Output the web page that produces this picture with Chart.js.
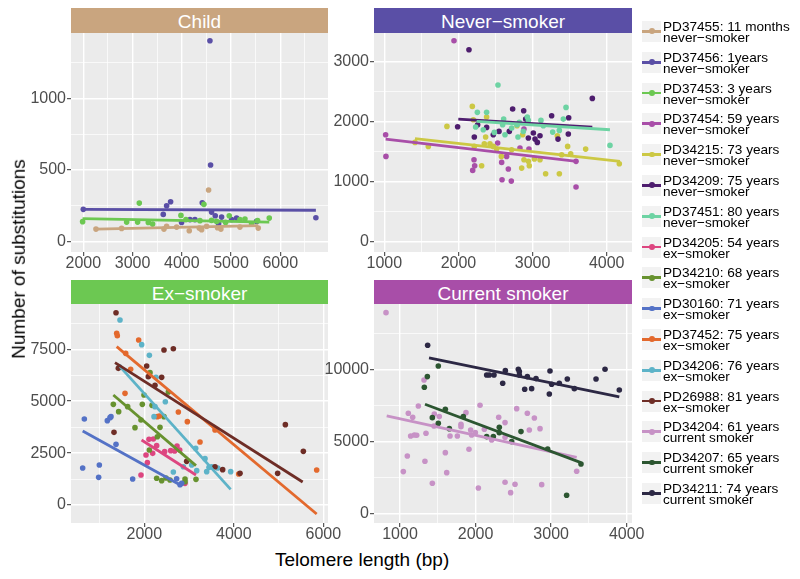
<!DOCTYPE html>
<html>
<head>
<meta charset="utf-8">
<script src="https://cdn.jsdelivr.net/npm/chart.js@4.4.1/dist/chart.umd.min.js"></script>
<style>
  body { margin: 0; background: #fff; font-family: "Liberation Sans", Arial, sans-serif; }
  #fig { position: relative; width: 800px; height: 579px; overflow: hidden; }
  .panel { position: absolute; }
  .strip { position: absolute; color: #fff; font-size: 19px; text-align: center; overflow: hidden; white-space: nowrap; }
  .title { position: absolute; font-size: 19px; color: #000; white-space: nowrap; }
  .entry { position: absolute; left: 642px; height: 31px; }
  .key { position: absolute; left: 0; top: 0; width: 19px; height: 21px; background: #f2f2f2; }
  .key .ln { position: absolute; left: 0; top: 9px; width: 19px; height: 2.8px; }
  .key .dot { position: absolute; left: 6.8px; top: 7.4px; width: 5.8px; height: 5.8px; border-radius: 50%; }
  .lab { position: absolute; left: 21px; top: 0; font-size: 13.6px; line-height: 11px; color: #000; white-space: nowrap; }
</style>
</head>
<body>
<div id="fig"></div>
<script>
// samples, in legend order
const sampleLabels = [
  'PD37455: 11 months', 'PD37456: 1years', 'PD37453: 3 years', 'PD37454: 59 years',
  'PD34215: 73 years', 'PD34209: 75 years', 'PD37451: 80 years', 'PD34205: 54 years',
  'PD34210: 68 years', 'PD30160: 71 years', 'PD37452: 75 years', 'PD34206: 76 years',
  'PD26988: 81 years', 'PD34204: 61 years', 'PD34207: 65 years', 'PD34211: 74 years'
];
const sampleStatus = [
  'never\u2212smoker', 'never\u2212smoker', 'never\u2212smoker', 'never\u2212smoker',
  'never\u2212smoker', 'never\u2212smoker', 'never\u2212smoker', 'ex\u2212smoker',
  'ex\u2212smoker', 'ex\u2212smoker', 'ex\u2212smoker', 'ex\u2212smoker',
  'ex\u2212smoker', 'current smoker', 'current smoker', 'current smoker'
];
const sampleColours = [
  '#c9a57f', '#5a4fa6', '#6cc852', '#a84ea8', '#ccc844', '#4e1d6e', '#6dd3a3', '#dd4680',
  '#67922f', '#5472c6', '#e3692d', '#5db3c8', '#6e2d26', '#c792c6', '#2c5631', '#2c2844'
];

// telomere length (bp) per sample
const pointLen = [
  [2257,2778,3638,3692,3896,4152,4355,4403,4504,4545,4727,4795,5181,5553],
  [2000,3624,3692,3773,3996,4166,4267,4416,4572,4585,4605,4680,4748,4809,5012,5113,5519,6724],
  [1986,2880,3103,3137,3320,3408,3983,4084,4369,4450,4605,4707,4890,4964,5181,5283,5418,5540,5777],
  [1018,1022,1940,2192,2210,2219,2529,2583,2588,2650,2673,2713,2830,2884,2951,3586,3586],
  [1414,1594,1845,2187,2201,2214,2313,2349,2367,2380,2425,2470,2515,2579,2718,2790,2853,2866,2884,2943,2956,3024,3100,3176,3334,3361,3392,3473,3514,3716,4170],
  [1989,2142,2214,2259,2380,2470,2547,2686,2731,2880,2907,2943,3010,3033,3064,3100,3257,3343,3482,3487,3806],
  [2232,2255,2335,2380,2484,2533,2596,2610,2628,2718,2790,2803,2821,2875,2929,2943,3113,3145,3271,3361,3415,3451,4044],
  [1926,2038,2068,2105,2187,2202,2276,2455,2590,2679,2731,2791,2910],
  [1308,1427,1628,1792,1926,1956,1993,2113,2128,2172,2276,2291,2351,2388,2440,2485,2537,2574,2910,2910,3155],
  [623,660,980,995,1174,1233,1256,1368,1740,2723,2798,2835],
  [1383,1397,1569,1584,1695,1874,2291,2336,2761,2962,3245,3580,4109,5852],
  [1442,1457,1941,2113,2217,2239,2262,2470,2649,2873,3059,3148,3171,3357,3394,3446,3506,3640,3930],
  [1323,1368,1420,2053,2090,2239,2388,2440,2649,2947,3580,3751,4139,4980,5152,5554],
  [815,1044,1097,1110,1141,1168,1190,1221,1243,1318,1330,1344,1428,1450,1454,1520,1600,1618,1662,1759,1807,1807,1873,1913,1935,1948,1997,2037,2059,2116,2213,2306,2390,2390,2390,2464,2522,2544,2685,2711,2778,2853,2875,3338],
  [1322,1362,1428,1507,1507,1600,1653,1838,2147,2235,2314,2314,2478,2601,2954,3205,3395],
  [1366,2147,2182,2244,2359,2394,2566,2579,2579,2650,2685,2742,2800,2976,2985,3007,3108,3214,3307,3594,3713,3902]
];
// number of substitutions per sample
const pointSubs = [
  [86,91,86,105,100,75,93,82,105,359,96,86,100,93],
  [224,189,249,277,133,152,152,270,1403,534,205,179,124,170,152,163,140,165],
  [138,135,135,268,133,121,182,152,145,259,147,140,133,179,152,156,124,145,163],
  [1781,1419,3350,1185,1363,1263,1642,1319,1030,1419,1208,1007,1558,1875,1541,907,1336],
  [1653,1586,1920,2254,2031,1586,1263,1631,1742,2076,1631,1586,1541,1419,1530,1931,1224,1781,1363,1336,1263,1375,1363,1130,1764,1130,1447,1586,1464,1541,1297],
  [1914,3200,1742,1948,1903,1781,1836,1836,2209,2181,2042,1725,1809,1708,1653,1764,2098,1708,1792,2065,2387],
  [1909,2154,1864,2154,1820,2610,1948,2042,1781,1892,1948,1742,1987,1836,2076,2020,2020,1931,1825,1853,2042,2237,1603],
  [1445,2408,2039,3163,2489,3179,2858,2569,2617,2601,2842,2649,1044],
  [4849,4496,4737,3725,4094,4849,5298,2649,6374,4801,1285,3291,3741,1172,4255,1301,5443,1204,1252,1124,1236],
  [1782,4142,1333,1927,4062,4207,4255,2922,1252,1268,979,1044],
  [8269,8156,5379,7305,6535,7948,4255,4287,4480,4014,3035,3613,1493,1686],
  [6663,8911,7723,7209,4255,4737,6149,4977,1590,1846,1927,2730,1654,2232,1606,1814,1846,1782,1606],
  [3500,9264,6583,6695,6182,5764,6149,7466,7530,2103,1846,1702,1525,1525,3870,2585],
  [13936,2894,3982,6945,5371,6667,5440,5417,7454,9260,3611,5556,2084,6065,6899,6714,4213,2824,5371,5371,6181,6019,6991,4445,5788,5440,5602,1759,7501,5834,5093,6667,6297,5278,2153,1435,2014,7269,6945,5788,6621,5880,1991,2917],
  [8751,9492,6644,10232,6251,7223,5880,6714,5325,5325,5973,5602,4977,5672,4468,1250,3426],
  [11668,9607,9607,9607,9029,9908,10000,9839,9607,8612,9492,8658,9353,8288,9885,8959,9029,9330,8658,9330,10000,8566]
];
// fitted line ends
const fitLen = [
  [2257,5553],[2000,6724],[1986,5777],[1018,3595],[1414,4179],[1998,3806],[2246,4044],[1939,3155],
  [1308,3155],[623,2835],[1383,5852],[1457,3930],[1345,5539],[824,3338],[1331,3395],[1384,3902]
];
const fitSubs = [
  [86,110],[224,218],[159,135],[1708,1336],[1714,1336],[2042,1909],[2003,1864],[3131,1445],
  [5298,1895],[3564,931],[7627,-434],[6663,755],[6856,1108],[6760,3889],[7570,3519],[10788,8079]
];

// facets
const panelNames = ['Child', 'Never\u2212smoker', 'Ex\u2212smoker', 'Current smoker'];
const panelSamples = [[0,1,2], [3,4,5,6], [7,8,9,10,11,12], [13,14,15]];
const xMajor = [[2000,3000,4000,5000,6000], [1000,2000,3000,4000], [2000,4000,6000], [1000,2000,3000,4000]];
const xMinor = [[2500,3500,4500,5500,6500], [1500,2500,3500], [1000,3000,5000], [1500,2500,3500]];
const yMajor = [[0,500,1000], [0,1000,2000,3000], [0,2500,5000,7500], [0,5000,10000]];
const yMinor = [[250,750,1250], [500,1500,2500], [1250,3750,6250,8750], [2500,7500,12500]];
const xLimits = [[1750,6970], [861,4341], [362,6105], [656,4070]];
const yLimits = [[-74,1457], [-177,3479], [-867,9682], [-674,14535]];

// panel plot areas on the page
const boxes = [
  {left: 71, top: 33, w: 257, h: 219, strip: 8},
  {left: 374, top: 33, w: 258, h: 219, strip: 8},
  {left: 71, top: 304, w: 257, h: 219, strip: 280},
  {left: 374, top: 304, w: 258, h: 219, strip: 280}
];
const yAxisW = 56, xAxisH = 26, padRight = 16, padTop = 14;

const fig = document.getElementById('fig');

const panelBg = {
  id: 'panelBg',
  beforeDraw(chart) {
    const a = chart.chartArea, c = chart.ctx;
    c.save();
    c.fillStyle = '#ebebeb';
    c.fillRect(a.left, a.top, a.right - a.left, a.bottom - a.top);
    c.restore();
  }
};

function axis(major, minor, lim, horizontal) {
  const all = major.concat(minor).sort((a, b) => a - b);
  return {
    type: 'linear',
    position: horizontal ? 'bottom' : 'left',
    min: lim[0],
    max: lim[1],
    afterBuildTicks: (s) => { s.ticks = all.map(v => ({value: v})); },
    afterFit: (s) => { if (horizontal) s.height = xAxisH; else s.width = yAxisW; },
    border: {display: false},
    grid: {
      color: '#ffffff',
      lineWidth: (c) => (c.tick && major.includes(c.tick.value)) ? 1.4 : 0.7,
      tickColor: (c) => (c.tick && major.includes(c.tick.value)) ? '#333333' : 'rgba(0,0,0,0)',
      tickLength: 4,
      tickWidth: 1
    },
    ticks: {
      autoSkip: false,
      maxRotation: 0,
      padding: horizontal ? -2 : 1,
      color: '#4d4d4d',
      font: {family: '"Liberation Sans", Arial, sans-serif', size: 16},
      callback: (v) => major.includes(v) ? String(v) : ''
    }
  };
}

for (let p = 0; p < 4; p++) {
  const b = boxes[p];
  const div = document.createElement('div');
  div.className = 'panel';
  div.style.left = (b.left - yAxisW) + 'px';
  div.style.top = (b.top - padTop) + 'px';
  div.style.width = (yAxisW + b.w + padRight) + 'px';
  div.style.height = (padTop + b.h + xAxisH) + 'px';
  const cv = document.createElement('canvas');
  div.appendChild(cv);
  fig.appendChild(div);

  const strip = document.createElement('div');
  strip.className = 'strip';
  strip.style.left = b.left + 'px';
  strip.style.width = b.w + 'px';
  strip.style.top = b.strip + 'px';
  strip.style.height = (b.top - b.strip - 0.5) + 'px';
  strip.style.lineHeight = (b.top - b.strip + 3) + 'px';
  strip.style.background = sampleColours[p];
  strip.textContent = panelNames[p];
  fig.appendChild(strip);

  const datasets = [];
  panelSamples[p].forEach(k => {
    datasets.push({
      label: sampleLabels[k],
      data: pointLen[k].map((x, i) => ({x: x, y: pointSubs[k][i]})),
      backgroundColor: sampleColours[k],
      borderWidth: 0,
      pointRadius: 2.8,
      order: 100 - k
    });
    datasets.push({
      label: sampleLabels[k] + ' fit',
      data: fitLen[k].map((x, i) => ({x: x, y: fitSubs[k][i]})),
      showLine: true,
      borderColor: sampleColours[k],
      borderWidth: 2.8,
      pointRadius: 0,
      order: 50 - k
    });
  });

  new Chart(cv, {
    type: 'scatter',
    data: {datasets: datasets},
    options: {
      responsive: true,
      maintainAspectRatio: false,
      animation: false,
      layout: {padding: {left: 0, top: padTop, bottom: 0, right: padRight}},
      plugins: {legend: {display: false}, tooltip: {enabled: false}},
      scales: {
        x: axis(xMajor[p], xMinor[p], xLimits[p], true),
        y: axis(yMajor[p], yMinor[p], yLimits[p], false)
      }
    },
    plugins: [panelBg]
  });
}

// axis titles
const xt = document.createElement('div');
xt.className = 'title';
xt.textContent = 'Telomere length (bp)';
fig.appendChild(xt);
xt.style.left = (362 - xt.offsetWidth / 2) + 'px';
xt.style.top = '549px';

const yt = document.createElement('div');
yt.className = 'title';
yt.textContent = 'Number of substitutions';
fig.appendChild(yt);
yt.style.left = (19 - yt.offsetWidth / 2) + 'px';
yt.style.top = (259 - yt.offsetHeight / 2) + 'px';
yt.style.transform = 'rotate(-90deg)';

// legend
sampleLabels.forEach((lab, i) => {
  const e = document.createElement('div');
  e.className = 'entry';
  e.style.top = (21 + i * 30.8) + 'px';
  e.innerHTML = '<div class="key"><div class="ln" style="background:' + sampleColours[i] + '"></div>' +
    '<div class="dot" style="background:' + sampleColours[i] + '"></div></div>' +
    '<div class="lab">' + lab + '<br>' + sampleStatus[i] + '</div>';
  fig.appendChild(e);
});
</script>
</body>
</html>
